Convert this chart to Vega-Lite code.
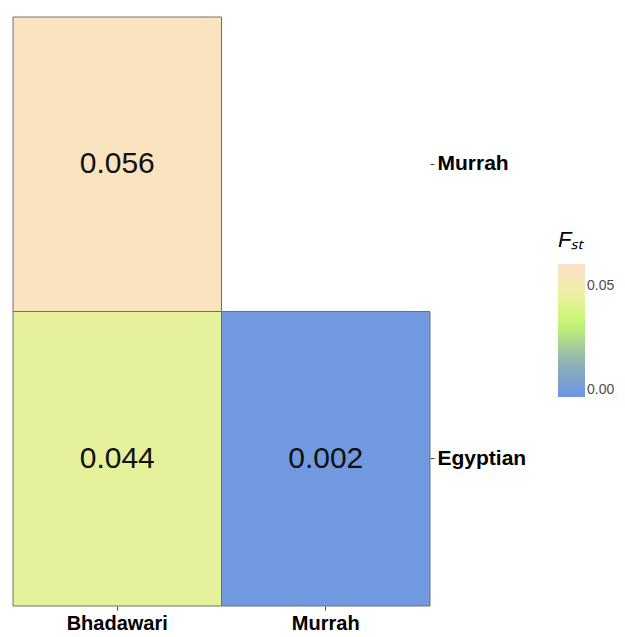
{
  "$schema": "https://vega.github.io/schema/vega-lite/v6.json",
  "width": 417,
  "height": 589,
  "autosize": {"type": "none"},
  "padding": {"left": 13, "top": 17, "right": 195, "bottom": 31},
  "background": "white",
  "config": {"view": {"stroke": null}, "font": "Liberation Sans"},
  "data": {"values": [
    {"pop1": "Bhadawari", "pop2": "Murrah", "fst": 0.056},
    {"pop1": "Bhadawari", "pop2": "Egyptian", "fst": 0.044},
    {"pop1": "Murrah", "pop2": "Egyptian", "fst": 0.002}
  ]},
  "encoding": {
    "x": {"field": "pop1", "type": "nominal", "sort": ["Bhadawari", "Murrah"],
      "scale": {"domain": ["Bhadawari", "Murrah"], "paddingInner": 0, "paddingOuter": 0},
      "axis": {"title": null, "orient": "bottom", "labelAngle": 0, "domain": false, "ticks": true, "tickSize": 4, "tickColor": "#444444", "labelFont": "Liberation Sans", "labelFontWeight": "bold", "labelFontSize": 20, "labelColor": "#000000", "labelPadding": 3}},
    "y": {"field": "pop2", "type": "nominal",
      "scale": {"domain": ["Murrah", "Egyptian"], "paddingInner": 0, "paddingOuter": 0},
      "axis": {"title": null, "orient": "right", "domain": false, "ticks": true, "tickSize": 4, "tickColor": "#444444", "labelFont": "Liberation Sans", "labelFontWeight": "bold", "labelFontSize": 21, "labelColor": "#000000", "labelPadding": 3}}
  },
  "layer": [
    {
      "mark": {"type": "rect", "stroke": "#6e6e6e", "strokeWidth": 1},
      "encoding": {
        "color": {"field": "fst", "type": "quantitative",
          "scale": {"domain": [0, 0.0165, 0.033, 0.0475, 0.06], "range": ["#6b95e6", "#93b3b0", "#c3f66e", "#eeefa8", "#ffdfca"], "interpolate": "rgb"},
          "legend": {"title": "Fₛₜ", "orient": "none", "legendX": 545, "legendY": 213, "titleFontStyle": "italic", "titleFontWeight": "normal", "titleFontSize": 22, "titleColor": "#000000", "titleFont": "Liberation Sans", "titlePadding": 12, "gradientLength": 133, "gradientThickness": 27, "gradientStrokeWidth": 0, "values": [0, 0.05], "format": ".2f", "labelFontSize": 14, "labelColor": "#4d4d4d", "labelFont": "Liberation Sans", "labelBaseline": "middle", "direction": "vertical"}}
      }
    },
    {
      "mark": {"type": "text", "fontSize": 30, "color": "#111111", "font": "Liberation Sans"},
      "encoding": {"text": {"field": "fst", "type": "quantitative", "format": ".3f"}}
    }
  ]
}
